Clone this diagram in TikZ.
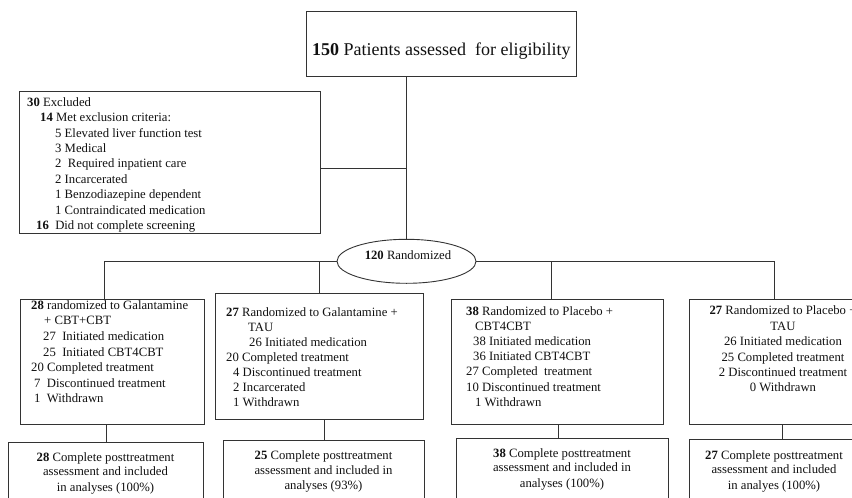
\documentclass[tikz,border=0pt]{standalone}
\usepackage{fontspec}
\setmainfont{Liberation Serif}
\usetikzlibrary{shapes.geometric}
\definecolor{linec}{HTML}{333333}
\definecolor{txtc}{HTML}{111111}
\newcommand\myfs{\fontsize{12.7}{15.5}\selectfont}
\begin{document}
\begin{tikzpicture}[x=1pt,y=-1pt,
  box/.style={draw=linec, line width=0.9pt, rectangle, inner sep=0pt, anchor=north west},
  conn/.style={draw=linec, line width=0.9pt},
  ln/.style={anchor=base west, inner sep=0pt, font=\myfs, text=txtc},
  lc/.style={anchor=base, inner sep=0pt, font=\myfs, text=txtc}]
\useasboundingbox (0,0) rectangle (852,498);
\clip (0,0) rectangle (852,498);
\fill[white] (0,0) rectangle (852,498);

% top box
\node[box, minimum width=270pt, minimum height=65pt] (top) at (306,11) {};
\node[anchor=base west, inner sep=0pt, text=txtc, font=\fontsize{18}{20}\selectfont] (toptxt) at (312,55) {\textbf{150} Patients assessed\ \ for eligibility};

% excluded box
\node[box, minimum width=301pt, minimum height=142pt] (excl) at (19,91) {};
\foreach \px/\py/\tx [count=\i] in {
  27/106.3/{\textbf{30} Excluded},
  40/121.7/{\textbf{14} Met exclusion criteria:},
  55/137.3/{5 Elevated liver function test},
  55/152.7/{3 Medical},
  55/167.9/{2\ \ Required inpatient care},
  55/183.3/{2 Incarcerated},
  55/198.7/{1 Benzodiazepine dependent},
  55/214/{1 Contraindicated medication},
  36/229.3/{\textbf{16}\ \ Did not complete screening}}
  \node[ln] (ex\i) at (\px,\py) {\tx};

% randomized ellipse
\node[draw=linec, line width=0.9pt, ellipse, minimum width=139pt, minimum height=44pt, inner sep=0pt] (ell) at (406.5,261.3) {};
\node[lc] (elltxt) at (408,259) {\textbf{120} Randomized};

% arm boxes
\node[box, minimum width=184pt, minimum height=125pt] (b1) at (20,299) {};
\node[box, minimum width=208pt, minimum height=126pt] (b2) at (215,293) {};
\node[box, minimum width=212pt, minimum height=125pt] (b3) at (451,299) {};
\node[box, minimum width=191pt, minimum height=125pt] (b4) at (689,299) {};

\foreach \px/\py/\tx [count=\i] in {
  31/309.3/{\textbf{28} randomized to Galantamine},
  44/324.9/{+ CBT+CBT},
  43/340.5/{27\ \ Initiated medication},
  43/356.1/{25\ \ Initiated CBT4CBT},
  31/371.7/{20 Completed treatment},
  34/387.3/{7\ \ Discontinued treatment},
  34/402.9/{1\ \ Withdrawn}}
  \node[ln] (bo\i) at (\px,\py) {\tx};

\foreach \px/\py/\tx [count=\i] in {
  226/316/{\textbf{27} Randomized to Galantamine +},
  248/331/{TAU},
  249/346/{26 Initiated medication},
  226/361/{20 Completed treatment},
  233/376/{4 Discontinued treatment},
  233/391/{2 Incarcerated},
  233/406/{1 Withdrawn}}
  \node[ln] (bt\i) at (\px,\py) {\tx};

\foreach \px/\py/\tx [count=\i] in {
  466/315.3/{\textbf{38} Randomized to Placebo +},
  475/330.3/{CBT4CBT},
  473/345.3/{38 Initiated medication},
  473/360.5/{36 Initiated CBT4CBT},
  466/375.7/{27 Completed\ \ treatment},
  466/391/{10 Discontinued treatment},
  475/406/{1 Withdrawn}}
  \node[ln] (bh\i) at (\px,\py) {\tx};

\foreach \py/\tx [count=\i] in {
  314.3/{\textbf{27} Randomized to Placebo +},
  330/{TAU},
  345.3/{26 Initiated medication},
  361/{25 Completed treatment},
  376/{2 Discontinued treatment},
  391/{0 Withdrawn}}
  \node[lc] (bf\i) at (783,\py) {\tx};

% outcome boxes
\node[box, minimum width=195pt, minimum height=80pt] (b5) at (8,442) {};
\node[box, minimum width=201pt, minimum height=82pt] (b6) at (223,440) {};
\node[box, minimum width=212pt, minimum height=84pt] (b7) at (456,438) {};
\node[box, minimum width=171pt, minimum height=83pt] (b8) at (689,439) {};

\foreach \py/\tx [count=\i] in {
  461/{\textbf{28} Complete posttreatment},
  475.5/{assessment and included},
  491/{in analyses (100\%)}}
  \node[lc] (oa\i) at (105.5,\py) {\tx};
\foreach \py/\tx [count=\i] in {
  459.7/{\textbf{25} Complete posttreatment},
  474.3/{assessment and included in},
  489.5/{analyses (93\%)}}
  \node[lc] (ob\i) at (323.5,\py) {\tx};
\foreach \py/\tx [count=\i] in {
  457/{\textbf{38} Complete posttreatment},
  471.7/{assessment and included in},
  487.5/{analyses (100\%)}}
  \node[lc] (oc\i) at (562,\py) {\tx};
\foreach \py/\tx [count=\i] in {
  459.3/{\textbf{27} Complete posttreatment},
  473.7/{assessment and included},
  489/{in analyes (100\%)}}
  \node[lc] (od\i) at (774,\py) {\tx};

% connectors
\draw[conn] (ell.north) -- (ell.north |- top.south);
\coordinate (jx) at (406.5,168);
\draw[conn] (excl.east |- jx) -- (jx);
\coordinate (d1) at (104.5,261);
\draw[conn] (ell.west) -- (ell.west -| d1) -- (d1 |- b1.north);
\draw[conn] (b2.north |- ell.west) -- (b2.north);
\coordinate (d4) at (774,261);
\draw[conn] (ell.east) -- (ell.east -| d4) -- (d4 |- b4.north);
\coordinate (d3) at (551,261);
\draw[conn] (d3 |- ell.east) -- (d3 |- b3.north);
\draw[conn] (b5.north) -- (b5.north |- b1.south);
\draw[conn] (b6.north) -- (b6.north |- b2.south);
\coordinate (d7) at (558,430);
\draw[conn] (d7 |- b3.south) -- (d7 |- b7.north);
\coordinate (d8) at (782,430);
\draw[conn] (d8 |- b4.south) -- (d8 |- b8.north);
\end{tikzpicture}
\end{document}
